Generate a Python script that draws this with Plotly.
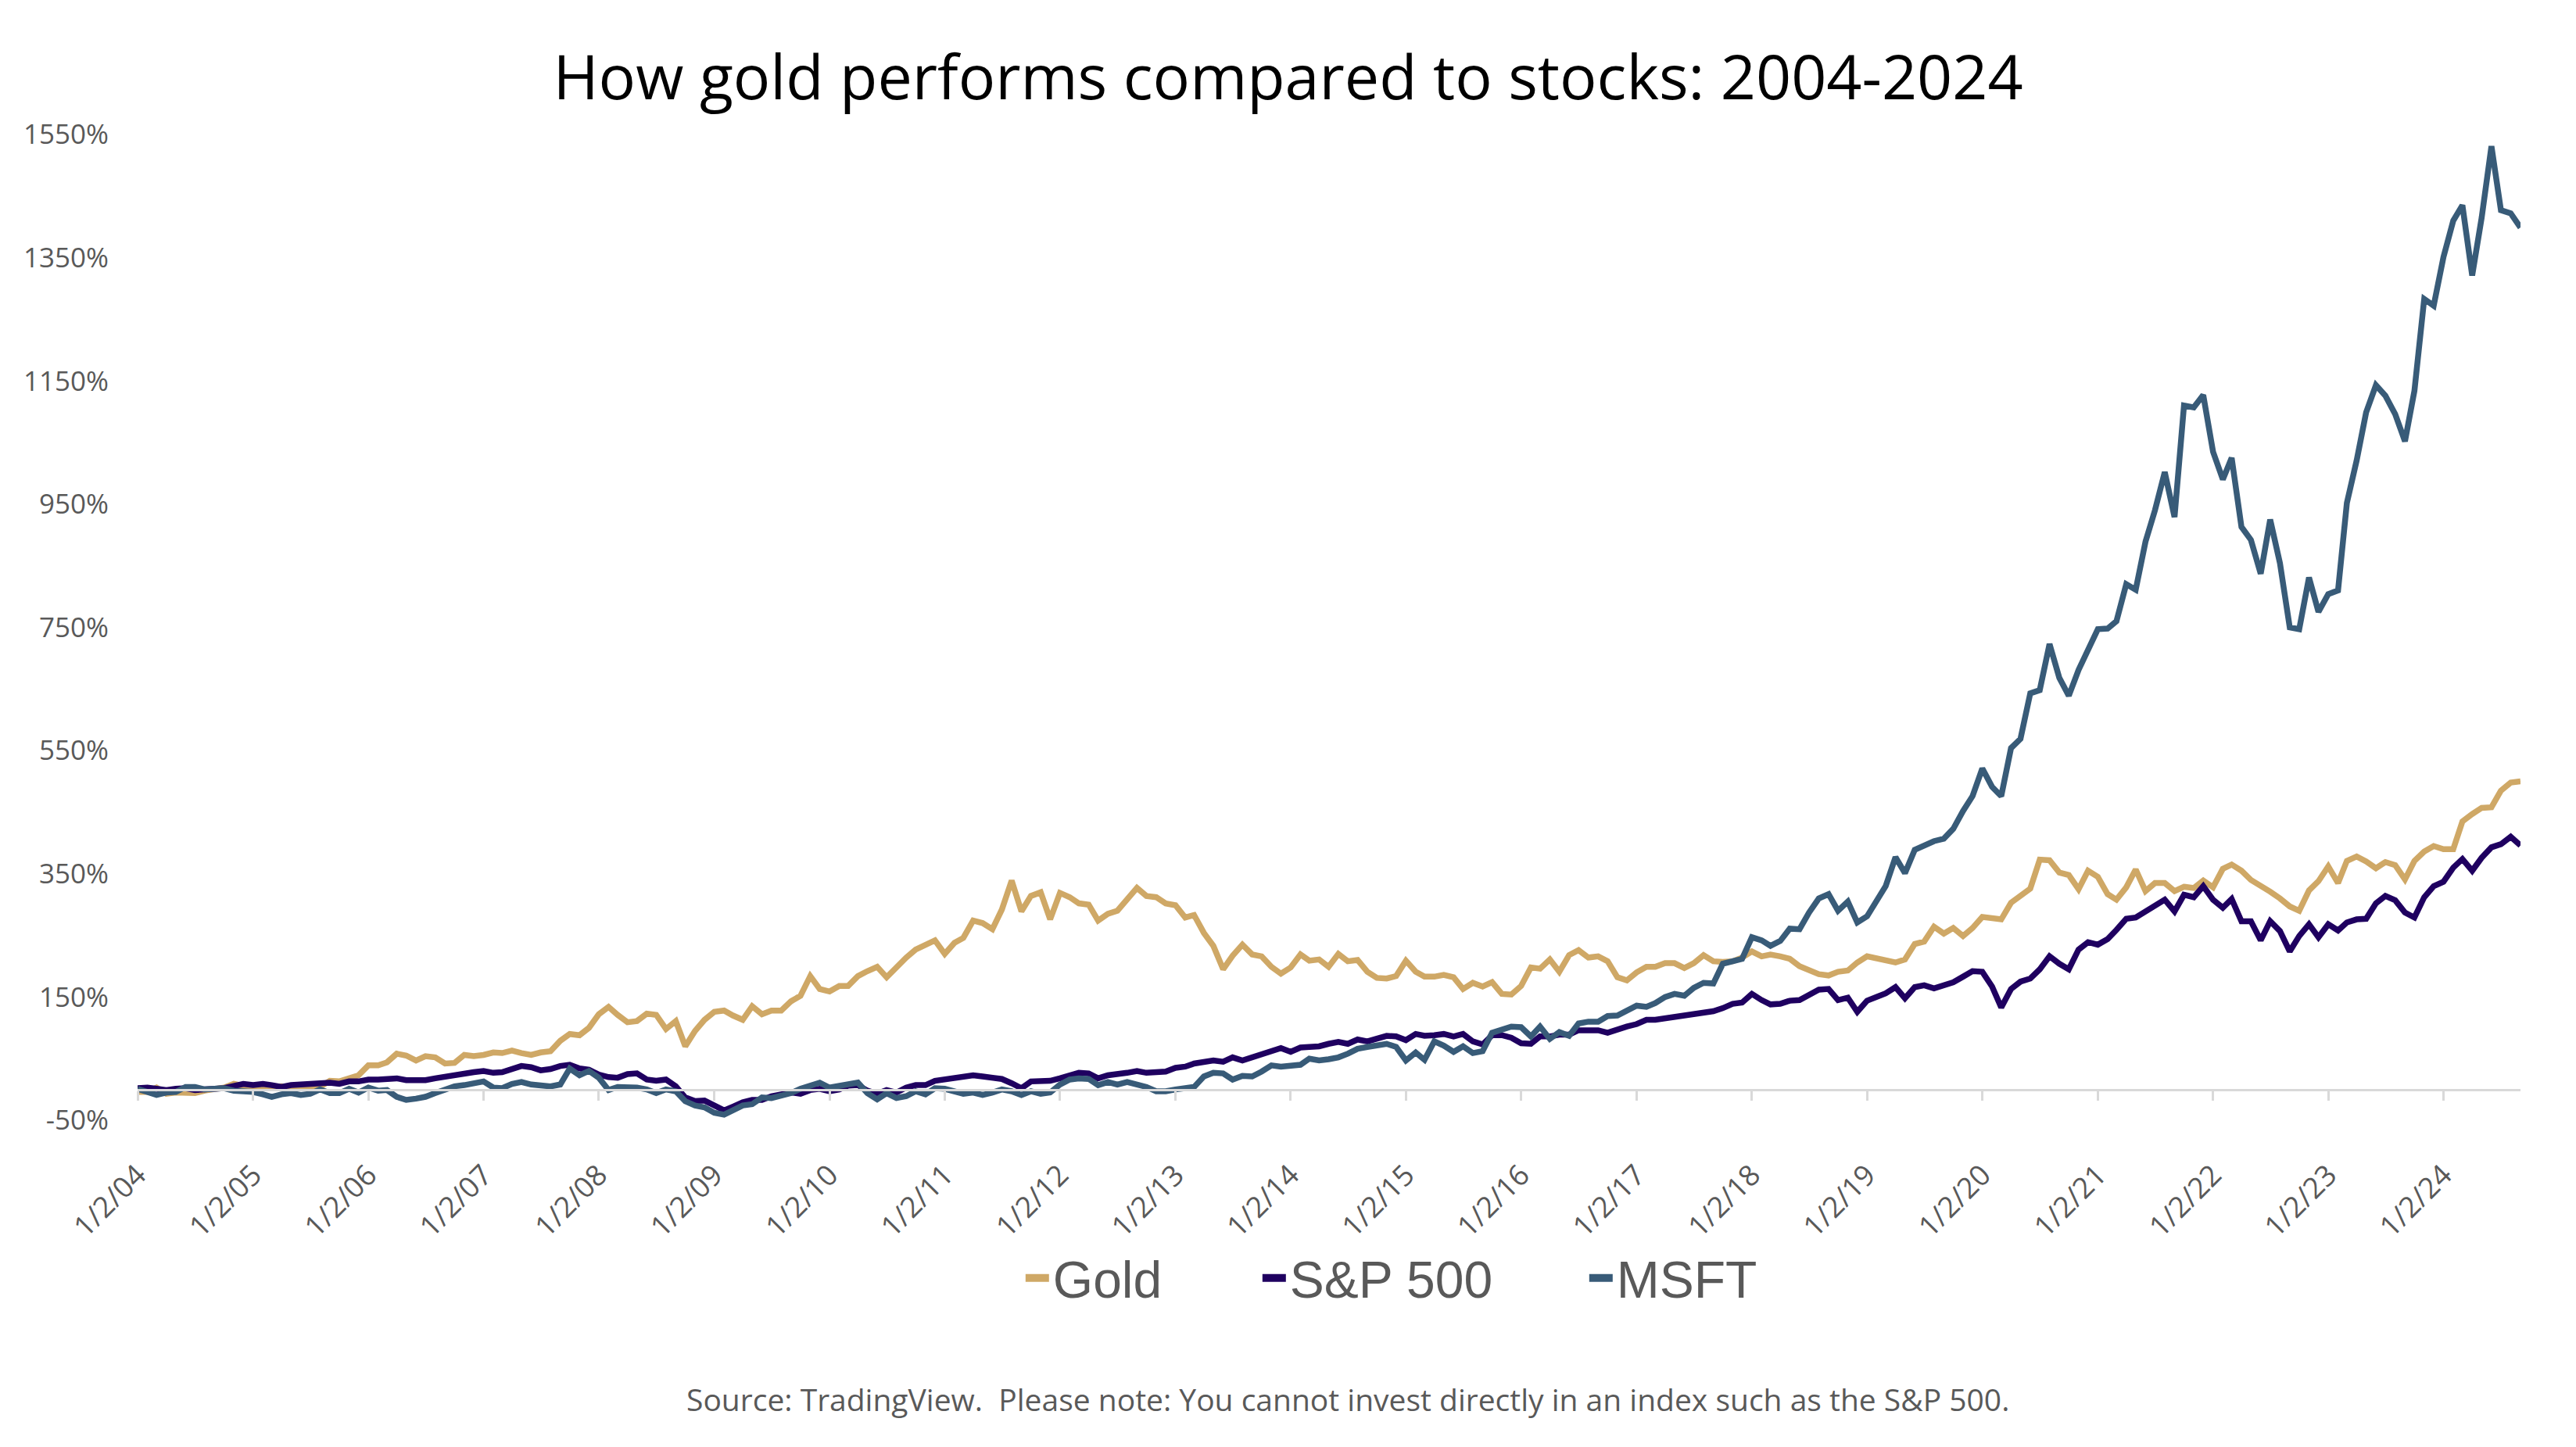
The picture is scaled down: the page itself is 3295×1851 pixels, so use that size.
import plotly.graph_objects as go

# Monthly points, first trading day of each month (1/2/04 ... 9/2/24)
dates = [f"{2004 + k // 12}-{k % 12 + 1:02d}-02" for k in range(249)]

gold = [
    -4, -4, 3, -7, -5, -5, -6, -2, 0, 3, 9, 5,
    2, 4, 3, 5, 1, 5, 3, 4, 14, 13, 19, 23,
    39, 39, 44, 58, 55, 47, 54, 52, 42, 43, 56, 54,
    56, 60, 59, 63, 59, 56, 60, 62, 79, 90, 88, 100,
    122, 134, 121, 109, 111, 123, 121, 98, 111, 70, 95, 113,
    126, 128, 120, 113, 135, 122, 128, 128, 143, 152, 184, 163,
    159, 168, 168, 184, 192, 199, 182, 199, 214, 227, 234, 242,
    220, 238, 246, 274, 270, 260, 292, 339, 289, 314, 320, 276,
    319, 312, 302, 300, 274, 285, 290, 307, 327, 314, 312, 302,
    299, 279, 283, 254, 233, 195, 217, 235, 219, 216, 199, 188,
    198, 219, 209, 211, 199, 220, 208, 210, 191, 181, 180, 184,
    209, 191, 183, 183, 186, 182, 163, 173, 167, 174, 155, 154,
    168, 198, 196, 211, 191, 218, 226, 214, 216, 208, 182, 177,
    190, 199, 199, 205, 205, 197, 205, 218, 208, 207, 208, 214,
    224, 216, 219, 216, 212, 200, 193, 187, 185, 191, 193, 206,
    216, 213, 208, 206, 211, 236, 240, 264, 253, 262, 249, 262,
    280, 279, 276, 303, 314, 326, 373, 372, 352, 348, 325, 355,
    345, 317, 308, 328, 357, 322, 335, 335, 322, 329, 327, 339,
    328, 358, 365, 355, 340, 331, 321, 310, 297, 290, 323, 338,
    362, 335, 371, 378, 370, 359, 369, 364, 341, 371, 386, 395,
    390, 390, 435, 447, 457, 458, 485, 498, 500,
]

sp500 = [
    2, 3, 1, -1, 1, 2, -1, -1, 1, 2, 6, 9,
    7, 9, 7, 4, 7, 8, 11, 10, 11, 9, 13, 13,
    16, 16, 17, 18, 15, 15, 15, 18, 21, 24, 26, 28,
    30, 27, 28, 34, 38, 36, 31, 33, 38, 40, 34, 32,
    24, 20, 19, 25, 26, 16, 14, 16, 5, -13, -19, -18,
    -25, -34, -28, -21, -17, -17, -11, -8, -5, -7, -1, 1,
    -3, 0, 6, 7, -2, -7, -1, -5, 3, 7, 7, 14,
    16, 20, 20, 23, 21, 19, 17, 10, 2, 13, 13, 14,
    18, 23, 27, 26, 18, 23, 24, 27, 30, 27, 28, 29,
    35, 37, 42, 44, 47, 45, 52, 47, 52, 59, 63, 67,
    61, 68, 69, 70, 74, 77, 74, 81, 78, 82, 87, 86,
    80, 90, 87, 88, 90, 86, 90, 78, 73, 88, 88, 84,
    75, 74, 86, 86, 89, 89, 96, 96, 96, 92, 98, 102,
    106, 113, 113, 115, 118, 119, 123, 123, 127, 132, 139, 141,
    155, 145, 138, 139, 144, 145, 154, 162, 163, 145, 149, 126,
    144, 151, 156, 166, 148, 166, 169, 164, 169, 174, 183, 192,
    191, 167, 133, 163, 175, 180, 195, 216, 204, 195, 227, 239,
    235, 244, 259, 277, 279, 288, 297, 308, 289, 316, 312, 330,
    308, 295, 309, 273, 273, 242, 273, 257, 224, 249, 268, 247,
    268, 258, 271, 276, 277, 302, 314, 307, 287, 279, 312, 330,
    337, 360, 374, 355, 376, 393, 398, 410, 396,
]

msft = [
    1, -3, -9, -5, -4, 4, 4, 0, 1, 2, -2, -2,
    -4, -8, -12, -8, -6, -9, -7, 0, -6, -6, 1, -5,
    3, -2, -1, -12, -17, -15, -12, -6, 0, 5, 7, 9,
    13, 3, 2, 9, 12, 8, 6, 5, 8, 34, 23, 30,
    19, -1, 4, 4, 3, 0, -6, 0, -3, -19, -26, -29,
    -38, -41, -33, -26, -24, -13, -14, -10, -6, 1, 7, 11,
    3, 5, 7, 11, -6, -16, -6, -14, -11, -3, -8, 2,
    1, -3, -7, -5, -9, -5, 0, -3, -9, -3, -7, -5,
    8, 16, 18, 17, 7, 12, 8, 12, 9, 4, -3, -3,
    0, 1, 4, 21, 27, 26, 16, 22, 21, 29, 39, 37,
    38, 40, 50, 47, 49, 52, 58, 66, 69, 71, 74, 69,
    47, 60, 48, 78, 71, 61, 70, 59, 62, 92, 98, 102,
    101, 86, 102, 82, 93, 87, 107, 110, 110, 119, 120, 127,
    136, 134, 140, 150, 155, 152, 165, 173, 172, 204, 207, 212,
    247, 242, 233, 241, 261, 260, 287, 310, 317, 290, 305, 271,
    281, 309, 330, 377, 351, 389, 397, 403, 407, 423, 452, 476,
    521, 491, 476, 554, 569, 643, 648, 723, 668, 639, 681, 712,
    747, 748, 760, 820, 811, 889, 940, 1002, 929, 1110, 1107, 1127,
    1035, 990, 1025, 913, 892, 837, 925, 854, 750, 747, 831, 775,
    804, 810, 952, 1021, 1099, 1143, 1126, 1096, 1052, 1134, 1283, 1272,
    1351, 1410, 1435, 1321, 1415, 1531, 1427, 1422, 1399,
]

assert len(gold) == len(sp500) == len(msft) == len(dates), (len(gold), len(sp500), len(msft))

series_names = ["Gold", "S&P 500", "MSFT"]
series_colors = ["#CFA866", "#1F0060", "#385B78"]
legend_widths = [258, 373, 180]   # px reserved for each legend entry's text

tick_dates = [f"{y}-01-02" for y in range(2004, 2025)]
tick_text = [f"1/2/{y % 100:02d}" for y in range(2004, 2025)]
y_ticks = list(range(-50, 1551, 200))

FONT = "Open Sans, Lato, sans-serif"
GREY = "#595959"
AXIS = "#D9D9D9"

fig = go.Figure()
for name, vals, col in zip(series_names, [gold, sp500, msft], series_colors):
    fig.add_trace(go.Scatter(x=dates, y=vals, mode="lines", name=name,
                             legendgroup=name,
                             line=dict(color=col, width=7.5), showlegend=False,
                             hoverinfo="x+y+name"))
# legend entries (thicker sample lines, as in the reference)
for name, col, lw in zip(series_names, series_colors, legend_widths):
    fig.add_trace(go.Scatter(x=[None], y=[None], mode="lines", name=name,
                             legendgroup=name, legendwidth=lw,
                             line=dict(color=col, width=10), xaxis="x2",
                             showlegend=True))

W, H = 3295, 1851
fig.update_layout(
    width=W, height=H,
    paper_bgcolor="white", plot_bgcolor="white",
    margin=dict(l=176, r=71, t=172, b=418),
    title=dict(text="How gold performs compared to stocks: 2004-2024",
               font=dict(family=FONT, size=79, color="#000000"),
               x=0.5, xanchor="center", y=1 - 99 / H, yanchor="middle"),
    xaxis=dict(type="date", range=[dates[0], dates[-1]],
               tickmode="array", tickvals=tick_dates, ticktext=tick_text,
               tickangle=-45, tickfont=dict(family=FONT, size=37, color=GREY),
               showline=False, showgrid=False, zeroline=False, ticks="",
               ticklabelstandoff=40),
    xaxis2=dict(type="date", range=[dates[0], dates[-1]], overlaying="x",
                anchor="free", position=50 / 1600,
                tickmode="array", tickvals=tick_dates, showticklabels=False,
                ticks="outside", ticklen=12, tickwidth=3, tickcolor=AXIS,
                showline=True, linecolor=AXIS, linewidth=3,
                showgrid=False, zeroline=False),
    yaxis=dict(range=[-50, 1550], tickmode="array", tickvals=y_ticks,
               ticktext=[f"{v}%" for v in y_ticks],
               tickfont=dict(family=FONT, size=35, color=GREY),
               showline=False, showgrid=False, zeroline=False, ticks="",
               ticklabelstandoff=36),
    legend=dict(orientation="h", x=0.371, xanchor="left",
                y=-0.16, yanchor="middle",
                font=dict(family="Liberation Sans, Arial, sans-serif", size=66, color=GREY),
                bgcolor="rgba(0,0,0,0)"),
    annotations=[dict(
        text="Source: TradingView.  Please note: You cannot invest directly in an index such as the S&P 500.",
        xref="paper", yref="paper", x=0.508, y=-0.283, xanchor="center", yanchor="middle",
        showarrow=False, font=dict(family=FONT, size=39, color=GREY))],
)

fig.write_html("out.html")
